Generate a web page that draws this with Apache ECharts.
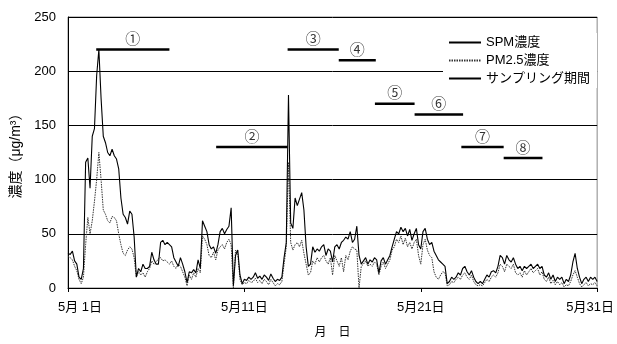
<!DOCTYPE html>
<html>
<head>
<meta charset="utf-8">
<script src="https://cdn.jsdelivr.net/npm/echarts@6/dist/echarts.min.js"></script>
<style>html,body{margin:0;padding:0;background:#fff}#c{width:617px;height:344px}</style>
</head>
<body>
<div id="c"></div>
<script>
// 3-hourly readings (8 per day) from 5/1 00:00 to 5/31 00:00
const STEPS_PER_DAY = 8;
const spm = [
 32,31,34,25,22,10,8,18,
 116,120,92,140,147,196,220,175,
 140,134,125,122,128,122,119,110,
 83,68,65,59,71,68,47,10,
 18,15,22,18,18,20,33,26,
 22,22,42,44,40,42,40,38,
 28,24,20,28,22,15,5,15,
 14,17,14,26,18,62,57,52,
 40,36,38,32,40,52,55,50,
 54,57,74,2,30,35,12,4,
 8,7,10,8,10,14,9,11,
 8,12,10,7,13,9,6,8,
 7,10,28,42,178,60,55,83,
 76,82,88,72,38,20,22,38,
 33,36,34,38,40,30,36,34,
 24,38,40,36,42,44,47,45,
 52,42,45,57,30,22,25,28,
 22,26,24,28,26,14,25,28,
 22,26,30,38,45,52,50,56,
 52,55,48,54,44,50,55,40,
 36,52,55,45,40,42,34,30,
 26,24,22,20,4,6,10,8,
 10,14,12,18,20,15,12,16,
 10,6,4,6,4,8,12,10,
 15,16,14,20,30,28,22,30,
 26,24,28,22,18,20,16,20,
 18,20,22,18,20,22,18,20,
 12,10,14,8,12,6,10,8,
 10,4,8,6,12,24,32,18,
 10,4,8,10,6,10,8,10,
 6
];
const pm25 = [
 29,28,26,20,16,8,4,10,
 40,65,50,62,80,100,125,100,
 72,68,62,60,66,65,62,50,
 40,32,30,35,38,36,28,10,
 15,12,14,10,15,18,25,22,
 24,27,28,25,26,24,22,25,
 20,18,22,20,15,10,2,12,
 8,14,10,18,14,48,45,40,
 30,28,33,26,35,38,40,36,
 42,45,40,0,35,32,8,3,
 5,4,7,5,6,9,5,7,
 4,8,6,3,8,5,2,4,
 3,6,22,38,116,42,35,40,
 42,38,44,32,22,12,14,25,
 22,28,24,28,30,25,22,28,
 12,30,25,20,28,15,30,26,
 34,38,36,35,0,20,22,25,
 20,22,20,24,22,12,20,24,
 18,22,26,35,38,45,42,48,
 40,46,38,42,36,42,45,30,
 22,40,45,35,30,28,15,10,
 8,12,15,14,2,3,6,5,
 8,10,8,12,14,10,8,12,
 6,3,2,3,2,5,8,6,
 10,12,10,14,22,20,15,22,
 20,18,22,14,12,14,10,16,
 12,15,18,14,16,18,12,15,
 8,6,10,4,7,3,6,3,
 5,1,3,2,6,12,16,10,
 4,1,3,5,2,4,3,5,
 2
];
// sampling periods (day offsets from 5/1 00:00) and bar levels
const periodStart = [1.6, 8.4, 12.45, 15.35, 17.4, 19.65, 22.3, 24.7];
const periodEnd   = [5.75, 12.45, 15.35, 17.45, 19.65, 22.4, 24.7, 26.9];
const periodLevel = [220, 130, 220, 210, 170, 160, 130, 120];
const periodLabel = ['①','②','③','④','⑤','⑥','⑦','⑧'];
const xTickValues = [0, 10, 20, 30];
const xTickLabels = ['5月 1日', '5月11日', '5月21日', '5月31日'];
const yMax = 250, yStep = 50;

const toPairs = arr => arr.map((v, i) => [i / STEPS_PER_DAY, v]);
const samplingData = [];
periodStart.forEach((s, k) => {
  samplingData.push([s, periodLevel[k]], [periodEnd[k], periodLevel[k]], null);
});
const labelData = periodStart.map((s, k) => ({
  value: [(s + periodEnd[k]) / 2, periodLevel[k]],
  label: { formatter: periodLabel[k] }
}));

const FONT = "'Liberation Sans', 'Noto Sans CJK JP', sans-serif";
const chart = echarts.init(document.getElementById('c'), null, { renderer: 'canvas' });
chart.setOption({
  animation: false,
  backgroundColor: '#fff',
  grid: { left: 68, right: 17, top: 17, bottom: 48, show: true, borderColor: '#888', borderWidth: 1 },
  legend: {
    data: ['SPM濃度', 'PM2.5濃度', 'サンプリング期間'],
    orient: 'vertical', left: 443, top: 33,
    itemWidth: 32, itemHeight: 14, itemGap: 5,
    itemStyle: { opacity: 0 },
    backgroundColor: '#fff', padding: [3, 7, 3, 5],
    textStyle: { fontSize: 13, color: '#000', fontFamily: FONT }
  },
  xAxis: {
    type: 'value', min: 0, max: 30, interval: 10,
    name: '月　日', nameLocation: 'middle', nameGap: 39,
    nameTextStyle: { fontSize: 12, color: '#000', fontFamily: FONT },
    axisLine: { lineStyle: { color: '#000', width: 1 } },
    axisTick: { show: true, length: 4, inside: false, lineStyle: { color: '#000' } },
    splitLine: { show: false },
    axisLabel: {
      margin: 13, fontSize: 13, color: '#000', fontFamily: FONT,
      formatter: v => {
        const k = xTickValues.indexOf(v);
        if (k < 0) return '';
        if (k === 0) return '{a|' + xTickLabels[k] + '}';
        if (k === xTickValues.length - 1) return '{c|' + xTickLabels[k] + '}';
        return xTickLabels[k];
      },
      rich: {
        a: { fontSize: 13, color: '#000', fontFamily: FONT, padding: [0, 0, 0, 24] },
        c: { fontSize: 13, color: '#000', fontFamily: FONT, padding: [0, 14, 0, 0] }
      }
    }
  },
  yAxis: {
    type: 'value', min: 0, max: yMax, interval: yStep,
    name: '濃度（μg/m³）', nameLocation: 'middle', nameGap: 43,
    nameTextStyle: { fontSize: 14, color: '#000', fontFamily: FONT },
    axisLine: { show: true, lineStyle: { color: '#000', width: 1 } },
    axisTick: { show: false },
    splitLine: { show: true, lineStyle: { color: '#000', width: 1 } },
    axisLabel: { margin: 12, fontSize: 13, color: '#000', fontFamily: FONT }
  },
  series: [
    {
      name: 'PM2.5濃度', type: 'line', data: toPairs(pm25), symbol: 'none',
      itemStyle: { color: '#333' },
      lineStyle: { color: '#333', width: 1, type: [1.5, 1] }, z: 2
    },
    {
      name: 'SPM濃度', type: 'line', data: toPairs(spm), symbol: 'none',
      itemStyle: { color: '#000' },
      lineStyle: { color: '#000', width: 1.1 }, z: 3
    },
    {
      name: 'サンプリング期間', type: 'line', data: samplingData, symbol: 'none',
      itemStyle: { color: '#000' },
      connectNulls: false, lineStyle: { color: '#000', width: 2.5 }, z: 4
    },
    {
      name: 'labels', type: 'scatter', data: labelData, symbolSize: 0, silent: true,
      label: { show: true, position: 'top', distance: 2, fontSize: 15, color: '#000', fontFamily: FONT },
      z: 5
    }
  ]
});
</script>
</body>
</html>
